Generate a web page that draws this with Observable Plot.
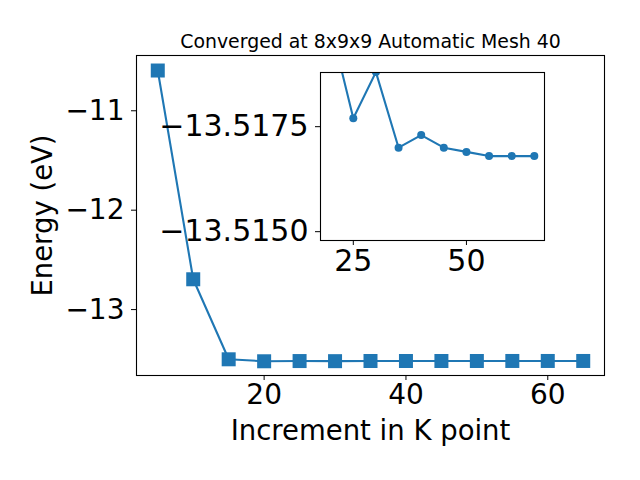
<!DOCTYPE html>
<html><head><meta charset="utf-8">
<script src="https://cdn.jsdelivr.net/npm/d3@7"></script>
<script src="https://cdn.jsdelivr.net/npm/@observablehq/plot@0.6"></script>
<style>
body{margin:0;background:#fff}
#wrap{position:relative;width:640px;height:480px}
#wrap svg{position:absolute;left:0;top:0}
</style>
</head><body><div id="wrap"></div>
<script>
const kPoints = [5, 10, 15, 20, 25, 30, 35, 40, 45, 50, 55, 60, 65];
const energies = [-10.595, -12.695, -13.500, -13.5199, -13.5177, -13.5188, -13.5170, -13.5173, -13.5170, -13.5169, -13.5168, -13.5168, -13.5168];
const mainXTicks = [20, 40, 60];
const mainYTicks = [-11, -12, -13];
const insetXTicks = [25, 50];
const insetYTicks = [-13.5175, -13.5150];
const titleText = "Converged at 8x9x9 Automatic Mesh 40";
const xLabelText = "Increment in K point";
const yLabelText = "Energy (eV)";

const color = "#1f77b4";
const data = kPoints.map((k, i) => ({k, e: energies[i]}));
const insetData = data.filter(d => d.k >= 20);
const font = "DejaVu Sans, sans-serif";

const main = Plot.plot({
  width: 640, height: 480,
  marginLeft: 136, marginRight: 36, marginTop: 55, marginBottom: 105,
  style: {fontFamily: font, background: "transparent", color: "black"},
  x: {domain: [2, 68]},
  y: {domain: [-13.663, -10.444]},
  marks: [
    Plot.axisX({ticks: mainXTicks, tickFormat: d3.format("d"), tickSize: 5, tickPadding: 4, fontSize: 28, label: null, stroke: "black"}),
    Plot.axisY({ticks: mainYTicks, tickFormat: d3.format("d"), tickSize: 5, tickPadding: 7, fontSize: 28, label: null, stroke: "black"}),
    Plot.line(data, {x: "k", y: "e", stroke: color, strokeWidth: 2.1}),
    Plot.dot(data, {x: "k", y: "e", symbol: "square", r: 7.9, fill: color, stroke: "none"}),
    Plot.frame({stroke: "black", strokeWidth: 1.1}),
    Plot.text([titleText], {text: d => d, frameAnchor: "top", lineAnchor: "middle", textAnchor: "middle", dy: -14, fontSize: 18.9, fill: "black"}),
    Plot.text([xLabelText], {text: d => d, frameAnchor: "bottom", lineAnchor: "middle", textAnchor: "middle", dy: 56, fontSize: 27.5, fill: "black"}),
    Plot.text([yLabelText], {text: d => d, frameAnchor: "left", lineAnchor: "middle", textAnchor: "middle", dx: -93, rotate: -90, fontSize: 27.5, fill: "black"})
  ]
});

const inset = Plot.plot({
  width: 640, height: 480,
  marginLeft: 320, marginRight: 96, marginTop: 72, marginBottom: 240,
  style: {fontFamily: font, background: "transparent", color: "black"},
  x: {domain: [17.75, 67.25]},
  y: {domain: [-13.51879, -13.51479], reverse: true},
  marks: [
    Plot.frame({fill: "white", stroke: "none"}),
    Plot.axisX({ticks: insetXTicks, tickFormat: d3.format("d"), tickSize: 5, tickPadding: 4, fontSize: 30, label: null, stroke: "black"}),
    Plot.axisY({ticks: insetYTicks, tickFormat: d3.format(".4f"), tickSize: 5, tickPadding: 7, fontSize: 30, label: null, stroke: "black"}),
    Plot.line(insetData, {x: "k", y: "e", stroke: color, strokeWidth: 2.1, clip: true}),
    Plot.dot(insetData, {x: "k", y: "e", r: 4, fill: color, stroke: "none", clip: true}),
    Plot.frame({stroke: "black", strokeWidth: 1.1})
  ]
});

const wrap = document.getElementById("wrap");
wrap.appendChild(main);
wrap.appendChild(inset);
</script></body></html>
